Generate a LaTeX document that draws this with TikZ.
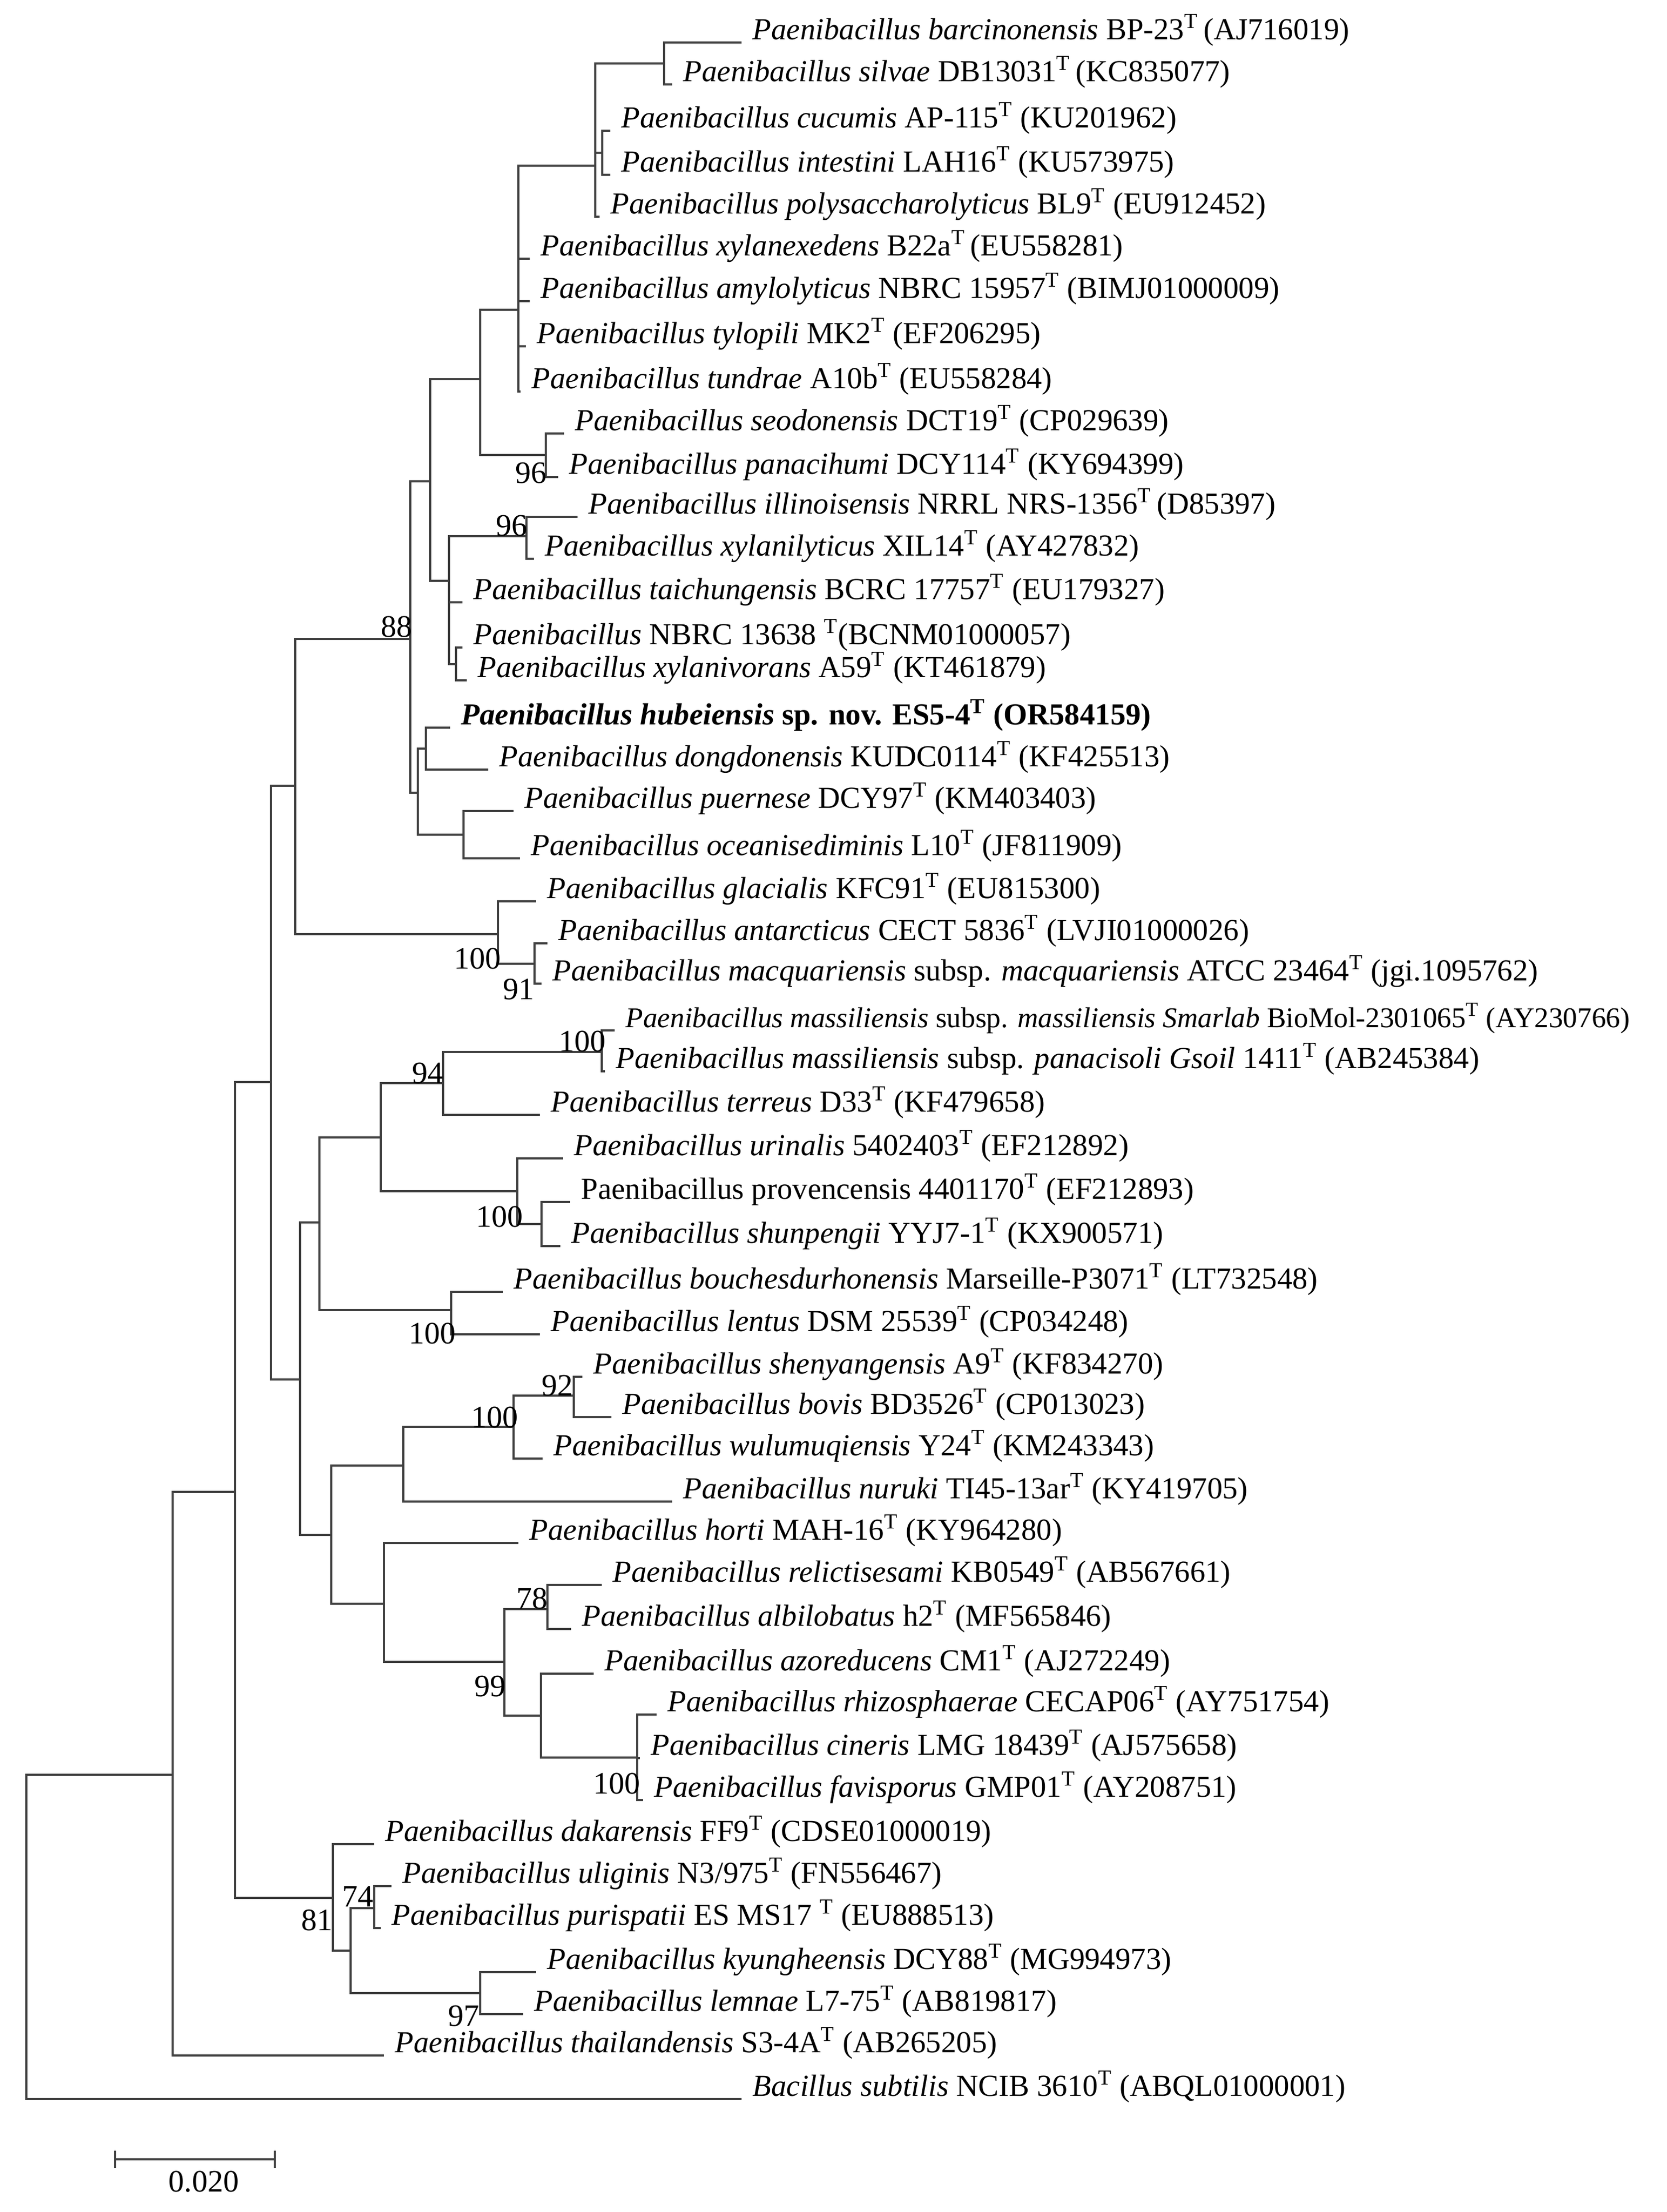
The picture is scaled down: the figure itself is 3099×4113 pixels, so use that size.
\documentclass[tikz,border=0pt]{standalone}
\usepackage{fontspec}
\setmainfont{Liberation Serif}
\newcommand{\Pb}{\textit{Paenibacillus}}
\newcommand{\Ty}{\textsuperscript{T}}
\begin{document}
\begin{tikzpicture}[x=0.25pt,y=-0.25pt,
  br/.style={draw=black!75,line width=0.85pt},
  lab/.style={anchor=base west,xshift=5pt,yshift=1.5pt,inner sep=0pt,font=\fontsize{14.2}{17}\selectfont},
  bs/.style={inner sep=0pt,font=\fontsize{14.5}{17}\selectfont}]
\useasboundingbox (0,0) rectangle (3099,4113);
% internal nodes
\foreach \n/\x/\y in {root/49/3600,R1/321/3300,R2/437/2774,Y/504/2012,X/549/1461,W/763/1188,V/800/895,U/893/705,G/964/576,P1/1107/308,B/1235/118,CI/1120/284,SP/1015/846,T/835/1080,I96/979/997,NX/848/1235,H/777/1474,HD/792/1392,PO/862/1552,Gl/926/1737,AM/994/1792,Z/558/2565,Q/594/2273,Q1/708/2115,N94/824/2014,MS/1119/1956,N100b/962/2215,PS/1007/2276,BL/839/2436,S/616/2854,S1/750/2725,N100c/955/2653,N92/1067/2595,S2/714/2982,N99/938/3090,N78/1018/2992,A/1006/3190,C/1185/3268,N81/619/3529,NN/652/3627,N74/696/3548,N97/893/3706}
  \coordinate (\n) at (\x,\y);
% leaf tips
\foreach \n/\x/\y in {1/1379/79,2/1250/157,3/1135/243,4/1135/325,5/1115/403,6/985/481,7/985/560,8/978/644,9/968/728,10/1049/806,11/1038/887,12/1074/961,13/993/1039,14/860/1120,15/860/1204,16/868/1265,17/837/1353,18/908/1431,19/955/1508,20/967/1596,21/997/1676,22/1018/1754,23/1007/1829,24/1143/1916,25/1125/1992,26/1004/2073,27/1047/2154,28/1060/2235,29/1042/2317,30/935/2402,31/1004/2481,32/1083/2560,33/1137/2635,34/1009/2712,35/1250/2792,36/964/2869,37/1119/2947,38/1062/3029,39/1104/3112,40/1221/3188,41/1190/3269,42/1196/3347,43/696/3429,44/728/3507,45/708/3585,46/997/3667,47/973/3745,48/714/3822,49/1379/3903}
  \coordinate (c\n) at (\x,\y);
% branches
\foreach \p/\c in {root/R1,root/c49,R1/R2,R1/c48,R2/Y,R2/N81,Y/X,Y/Z,X/W,X/Gl,W/V,W/H,V/U,V/T,U/G,U/SP,G/P1,G/c6,G/c7,G/c8,G/c9,P1/B,P1/CI,P1/c5,B/c1,B/c2,CI/c3,CI/c4,SP/c10,SP/c11,T/I96,T/c14,T/NX,I96/c12,I96/c13,NX/c15,NX/c16,H/HD,H/PO,HD/c17,HD/c18,PO/c19,PO/c20,Gl/c21,Gl/AM,AM/c22,AM/c23,Z/Q,Z/S,Q/Q1,Q/BL,Q1/N94,Q1/N100b,N94/MS,N94/c26,MS/c24,MS/c25,N100b/c27,N100b/PS,PS/c28,PS/c29,BL/c30,BL/c31,S/S1,S/S2,S1/N100c,S1/c35,N100c/N92,N100c/c34,N92/c32,N92/c33,S2/c36,S2/N99,N99/N78,N99/A,N78/c37,N78/c38,A/c39,A/C,C/c40,C/c41,C/c42,N81/c43,N81/NN,NN/N74,NN/N97,N74/c44,N74/c45,N97/c46,N97/c47}
  \draw[br] (\p) |- (\c);
% labels
\node[lab] (l1) at (c1) {\Pb\ \textit{barcinonensis} BP-23\Ty\,(AJ716019)};
\node[lab] (l2) at (c2) {\Pb\ \textit{silvae} DB13031\Ty\,(KC835077)};
\node[lab] (l3) at (c3) {\Pb\ \textit{cucumis} AP-115\Ty\ (KU201962)};
\node[lab] (l4) at (c4) {\Pb\ \textit{intestini} LAH16\Ty\ (KU573975)};
\node[lab] (l5) at (c5) {\Pb\ \textit{polysaccharolyticus} BL9\Ty\ (EU912452)};
\node[lab] (l6) at (c6) {\Pb\ \textit{xylanexedens} B22a\Ty\,(EU558281)};
\node[lab] (l7) at (c7) {\Pb\ \textit{amylolyticus} NBRC 15957\Ty\ (BIMJ01000009)};
\node[lab] (l8) at (c8) {\Pb\ \textit{tylopili} MK2\Ty\ (EF206295)};
\node[lab] (l9) at (c9) {\Pb\ \textit{tundrae} A10b\Ty\ (EU558284)};
\node[lab] (l10) at (c10) {\Pb\ \textit{seodonensis} DCT19\Ty\ (CP029639)};
\node[lab] (l11) at (c11) {\Pb\ \textit{panacihumi} DCY114\Ty\ (KY694399)};
\node[lab] (l12) at (c12) {\Pb\ \textit{illinoisensis} NRRL NRS-1356\Ty\,(D85397)};
\node[lab] (l13) at (c13) {\Pb\ \textit{xylanilyticus} XIL14\Ty\ (AY427832)};
\node[lab] (l14) at (c14) {\Pb\ \textit{taichungensis} BCRC 17757\Ty\ (EU179327)};
\node[lab] (l15) at (c15) {\Pb\ NBRC 13638 \Ty(BCNM01000057)};
\node[lab] (l16) at (c16) {\Pb\ \textit{xylanivorans} A59\Ty\ (KT461879)};
\node[lab] (l17) at (c17) {\textbf{\textit{Paenibacillus hubeiensis} sp. nov. ES5-4\Ty\ (OR584159)}};
\node[lab] (l18) at (c18) {\Pb\ \textit{dongdonensis} KUDC0114\Ty\ (KF425513)};
\node[lab] (l19) at (c19) {\Pb\ \textit{puernese} DCY97\Ty\ (KM403403)};
\node[lab] (l20) at (c20) {\Pb\ \textit{oceanisediminis} L10\Ty\ (JF811909)};
\node[lab] (l21) at (c21) {\Pb\ \textit{glacialis} KFC91\Ty\ (EU815300)};
\node[lab] (l22) at (c22) {\Pb\ \textit{antarcticus} CECT 5836\Ty\ (LVJI01000026)};
\node[lab] (l23) at (c23) {\Pb\ \textit{macquariensis} subsp. \textit{macquariensis} ATCC 23464\Ty\ (jgi.1095762)};
\node[lab,font=\fontsize{13.3}{16}\selectfont] (l24) at (c24) {\Pb\ \textit{massiliensis} subsp. \textit{massiliensis Smarlab} BioMol-2301065\Ty\ (AY230766)};
\node[lab] (l25) at (c25) {\Pb\ \textit{massiliensis} subsp. \textit{panacisoli Gsoil} 1411\Ty\ (AB245384)};
\node[lab] (l26) at (c26) {\Pb\ \textit{terreus} D33\Ty\ (KF479658)};
\node[lab] (l27) at (c27) {\Pb\ \textit{urinalis} 5402403\Ty\ (EF212892)};
\node[lab] (l28) at (c28) {Paenibacillus provencensis 4401170\Ty\ (EF212893)};
\node[lab] (l29) at (c29) {\Pb\ \textit{shunpengii} YYJ7-1\Ty\ (KX900571)};
\node[lab] (l30) at (c30) {\Pb\ \textit{bouchesdurhonensis} Marseille-P3071\Ty\ (LT732548)};
\node[lab] (l31) at (c31) {\Pb\ \textit{lentus} DSM 25539\Ty\ (CP034248)};
\node[lab] (l32) at (c32) {\Pb\ \textit{shenyangensis} A9\Ty\ (KF834270)};
\node[lab] (l33) at (c33) {\Pb\ \textit{bovis} BD3526\Ty\ (CP013023)};
\node[lab] (l34) at (c34) {\Pb\ \textit{wulumuqiensis} Y24\Ty\ (KM243343)};
\node[lab] (l35) at (c35) {\Pb\ \textit{nuruki} TI45-13ar\Ty\ (KY419705)};
\node[lab] (l36) at (c36) {\Pb\ \textit{horti} MAH-16\Ty\ (KY964280)};
\node[lab] (l37) at (c37) {\Pb\ \textit{relictisesami} KB0549\Ty\ (AB567661)};
\node[lab] (l38) at (c38) {\Pb\ \textit{albilobatus} h2\Ty\ (MF565846)};
\node[lab] (l39) at (c39) {\Pb\ \textit{azoreducens} CM1\Ty\ (AJ272249)};
\node[lab] (l40) at (c40) {\Pb\ \textit{rhizosphaerae} CECAP06\Ty\ (AY751754)};
\node[lab] (l41) at (c41) {\Pb\ \textit{cineris} LMG 18439\Ty\ (AJ575658)};
\node[lab] (l42) at (c42) {\Pb\ \textit{favisporus} GMP01\Ty\ (AY208751)};
\node[lab] (l43) at (c43) {\Pb\ \textit{dakarensis} FF9\Ty\ (CDSE01000019)};
\node[lab] (l44) at (c44) {\Pb\ \textit{uliginis} N3/975\Ty\ (FN556467)};
\node[lab] (l45) at (c45) {\Pb\ \textit{purispatii} ES MS17 \Ty\ (EU888513)};
\node[lab] (l46) at (c46) {\Pb\ \textit{kyungheensis} DCY88\Ty\ (MG994973)};
\node[lab] (l47) at (c47) {\Pb\ \textit{lemnae} L7-75\Ty\ (AB819817)};
\node[lab] (l48) at (c48) {\Pb\ \textit{thailandensis} S3-4A\Ty\ (AB265205)};
\node[lab] (l49) at (c49) {\textit{Bacillus subtilis} NCIB 3610\Ty\ (ABQL01000001)};
% bootstrap values
\foreach \n/\x/\y/\t in {b1/737/1165/88,b2/987/880/96,b3/951/978/96,b4/888/1782/100,b5/964/1840/91,b6/1083/1936/100,b7/795/1996/94,b8/929/2262/100,b9/804/2479/100,b10/1036/2577/92,b11/920/2635/100,b12/989/2972/78,b13/911/3136/99,b14/1147/3316/100,b15/589/3570/81,b16/665/3526/74,b17/862/3749/97}
  \node[bs] (\n) at (\x,\y) {\t};
% scale bar
\coordinate (s1) at (214,4015);
\coordinate (s2) at (511,4015);
\draw[br] (s1) -- (s2);
\draw[br] ([yshift=-4pt]s1) -- ([yshift=4pt]s1);
\draw[br] ([yshift=-4pt]s2) -- ([yshift=4pt]s2);
\node[bs] (sl) at (379,4057) {0.020};
\end{tikzpicture}
\end{document}
